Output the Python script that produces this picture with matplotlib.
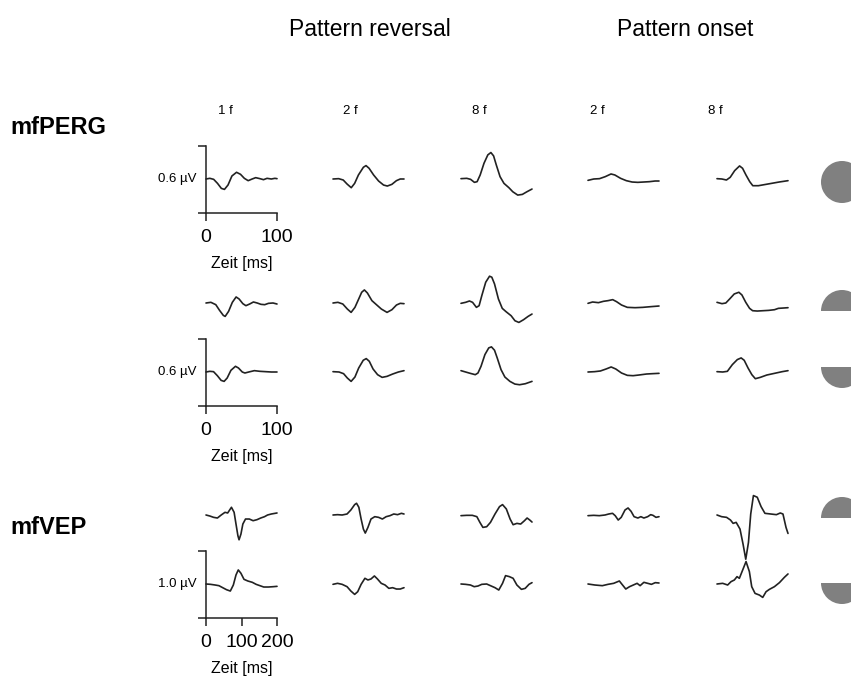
import matplotlib
matplotlib.use('Agg')
import matplotlib.pyplot as plt
from matplotlib.patches import Wedge

plt.rcParams['font.family'] = ['Liberation Sans', 'DejaVu Sans']

# Kurven: (Zeit ms, Amplitude µV), abgelesen aus der Vorlage
# mfPERG Zeile 1
perg1_rev1f = [(0, 0), (5.4, 0.006), (10.8, -0.003), (16.2, -0.039), (21.6, -0.084), (26, -0.093),
               (31, -0.054), (36.5, 0.027), (43, 0.06), (48.6, 0.042), (54, 0.006), (59.4, -0.015),
               (65, 0), (70, 0.012), (76, 0.003), (81, -0.006), (86, 0.006), (92, 0), (97, 0.006), (100, 0.003)]
perg1_rev2f = [(0, 0), (8, 0.003), (14.4, -0.009), (19.8, -0.045), (25.7, -0.078), (30.5, -0.039),
               (35.8, 0.036), (42.8, 0.105), (46.5, 0.12), (50.8, 0.096), (57.2, 0.036), (64.2, -0.018),
               (71.2, -0.054), (76.5, -0.063), (82.9, -0.048), (89.3, -0.015), (94.7, 0), (100, 0)]
perg1_rev8f = [(0, 0.003), (8.1, 0.006), (13.5, -0.003), (18.9, -0.03), (22.7, -0.024), (27, 0.036),
               (32.4, 0.141), (37.8, 0.216), (42.1, 0.237), (45.9, 0.207), (49.7, 0.126), (55, 0.021),
               (60.5, -0.039), (67.5, -0.078), (72.9, -0.114), (79.9, -0.144), (86.4, -0.138),
               (92.9, -0.114), (100, -0.09)]
perg1_on2f = [(0, -0.012), (8.1, 0), (16.2, 0.003), (24.3, 0.021), (32.4, 0.045), (37.8, 0.036),
              (45.9, 0.006), (54, -0.015), (62.1, -0.027), (70.2, -0.03), (78.3, -0.027), (86.4, -0.024),
              (94.5, -0.018), (100, -0.018)]
perg1_on8f = [(0, 0.003), (6.9, 0), (13.3, -0.009), (18.6, 0.015), (24.9, 0.075), (31.8, 0.117),
              (36, 0.096), (40.8, 0.036), (46.1, -0.024), (50.4, -0.06), (58.3, -0.06), (66.3, -0.051),
              (76.9, -0.039), (87.5, -0.027), (100, -0.015)]

# mfPERG Zeile 2
perg2_rev1f = [(0, 0), (6.9, 0.006), (13.8, -0.015), (19.1, -0.066), (24.4, -0.111), (27, -0.12),
               (31.8, -0.075), (37.1, 0.006), (42.4, 0.054), (46.6, 0.036), (51.9, -0.006), (56.2, -0.024),
               (61.5, -0.009), (66.8, 0.009), (72.1, 0), (77.4, -0.012), (82.7, -0.015), (88, -0.003),
               (94.4, 0), (100, -0.009)]
perg2_rev2f = [(0, 0), (6.9, 0.006), (13.8, -0.009), (20.2, -0.054), (25.5, -0.084), (30.9, -0.039),
               (36.2, 0.036), (40.4, 0.096), (44.2, 0.117), (48.4, 0.09), (54.8, 0.021), (61.7, -0.018),
               (68.1, -0.054), (76.1, -0.084), (83, -0.06), (89.4, -0.018), (94.7, -0.003), (100, -0.006)]
perg2_rev8f = [(0, -0.003), (6.5, 0.006), (11.9, 0.018), (16.3, 0.006), (21.7, -0.039), (25.5, -0.024),
               (29.3, 0.066), (34.8, 0.186), (40.2, 0.24), (43.4, 0.231), (47.2, 0.171), (52.7, 0.036),
               (58.1, -0.048), (63.5, -0.078), (70.6, -0.114), (76, -0.159), (81.5, -0.174), (88, -0.15),
               (94.5, -0.12), (100, -0.099)]
perg2_on2f = [(0, -0.003), (6.5, 0.009), (14.7, 0.003), (21.7, 0.015), (28.2, 0.021), (34.8, 0.03),
              (40.2, 0.012), (47.2, -0.018), (55.4, -0.039), (66.3, -0.042), (77.1, -0.039), (88, -0.033),
              (100, -0.027)]
perg2_on8f = [(0, 0.006), (7, -0.006), (12.4, 0), (17.8, 0.036), (24.3, 0.081), (30.8, 0.096),
              (35.1, 0.072), (40.5, 0.006), (45.9, -0.048), (50.2, -0.069), (56.7, -0.072), (64.8, -0.069),
              (72.9, -0.066), (81, -0.06), (86.4, -0.048), (93.4, -0.045), (100, -0.042)]

# mfPERG Zeile 3
perg3_rev1f = [(0, 0), (5.3, 0.006), (10.6, 0.003), (16, -0.033), (21.3, -0.075), (25.5, -0.084),
               (29.8, -0.054), (35.1, 0.015), (41.5, 0.051), (45.7, 0.036), (51.1, 0), (54.8, -0.009),
               (60.2, 0), (68.1, 0.012), (76.1, 0.006), (84.1, 0.003), (92, 0), (100, 0)]
perg3_rev2f = [(0, 0.003), (8.5, 0), (14.9, -0.015), (20.2, -0.054), (25.5, -0.084), (30.9, -0.045),
               (36.2, 0.036), (42.6, 0.105), (46.8, 0.12), (51.1, 0.096), (56.4, 0.027), (62.8, -0.024),
               (69.2, -0.048), (76.1, -0.039), (84.1, -0.018), (92.1, 0), (100, 0.012)]
perg3_rev8f = [(0, 0.012), (6.5, 0), (13, -0.012), (20.1, -0.024), (23.9, -0.009), (28.2, 0.051),
               (33.7, 0.156), (39.1, 0.216), (42.9, 0.225), (47.2, 0.195), (51, 0.126), (56.4, 0.021),
               (61.8, -0.045), (68.9, -0.084), (75.9, -0.108), (82.5, -0.114), (90.6, -0.105), (100, -0.084)]
perg3_on2f = [(0, 0), (9.2, 0.003), (17.4, 0.009), (25.5, 0.027), (32.6, 0.045), (39.1, 0.027),
              (47.2, -0.009), (55.4, -0.03), (63.5, -0.033), (71.7, -0.027), (82.5, -0.018), (90.7, -0.015),
              (100, -0.012)]
perg3_on8f = [(0, 0.003), (8.1, 0), (14.6, 0.006), (21.6, 0.066), (28.6, 0.111), (34, 0.126),
              (38.3, 0.105), (43.7, 0.036), (49.1, -0.024), (54, -0.06), (61, -0.048), (70.2, -0.027),
              (81, -0.012), (91.8, 0.003), (100, 0.012)]

# mfVEP Zeile 1
vep1_rev1f = [(0, 0), (10.7, -0.015), (21.4, -0.035), (32.1, -0.045), (42.8, 0), (53.5, 0.04), (61, 0.03),
              (71.7, 0.115), (79.2, 0.04), (84.5, -0.135), (89.9, -0.31), (93.1, -0.37), (98.4, -0.285),
              (103.8, -0.135), (111.3, -0.06), (122, -0.06), (132.7, -0.085), (143.5, -0.07),
              (154.2, -0.045), (164.9, -0.025), (173.4, 0), (184.1, 0.015), (200, 0.03)]
vep1_rev2f = [(0, 0), (12.8, 0.005), (25.7, 0), (39.6, 0.015), (50.3, 0.075), (61, 0.155), (66.3, 0.175),
              (72.8, 0.115), (79.2, -0.06), (85.6, -0.21), (90.9, -0.27), (98.4, -0.185), (107, -0.06),
              (117.7, -0.025), (128.4, -0.035), (139.1, -0.06), (149.8, -0.025), (160.5, -0.01),
              (171.2, 0.015), (181.9, 0.005), (192.6, 0.025), (200, 0.015)]
vep1_rev8f = [(0, -0.01), (16, -0.005), (31.9, -0.005), (44.7, -0.025), (53.2, -0.11), (61.7, -0.185),
              (72.3, -0.175), (83, -0.11), (95.8, 0.015), (108.5, 0.125), (117, 0.155), (127.7, 0.09),
              (138.3, -0.06), (146.8, -0.145), (157.5, -0.125), (168.1, -0.135), (178.8, -0.085),
              (186.2, -0.045), (193.7, -0.075), (200, -0.105)]
vep1_on2f = [(0, -0.01), (16, -0.005), (31.9, -0.01), (47.9, 0), (58.5, 0.015), (69.1, 0.025),
             (76.6, -0.01), (85.1, -0.075), (93.6, -0.035), (104.3, 0.075), (112.8, 0.105), (121.3, 0.055),
             (129.8, -0.025), (140.4, -0.045), (148.9, -0.025), (157.4, -0.045), (168.1, -0.025),
             (176.6, 0.005), (183, -0.005), (191.5, -0.035), (200, -0.025)]
vep1_on8f = [(0, 0), (13, -0.025), (27, -0.035), (38, -0.075), (45.4, -0.125), (54, -0.11), (64.8, -0.21),
             (73.4, -0.435), (81, -0.66), (88.6, -0.41), (95, 0.015), (102.6, 0.29), (113.4, 0.265),
             (124.2, 0.125), (135, 0.025), (151.2, 0.015), (167.4, 0.005), (178.2, 0.03), (185.8, 0.015),
             (194.4, -0.185), (200, -0.275)]

# mfVEP Zeile 2
vep2_rev1f = [(0, 0), (12.8, -0.005), (25.7, -0.015), (36.4, -0.025), (47.1, -0.055), (57.8, -0.085),
              (68.5, -0.105), (77, -0.015), (84.5, 0.135), (90.9, 0.21), (98.4, 0.16), (107, 0.07),
              (117.7, 0.045), (130.5, 0.025), (141.2, -0.005), (151.9, -0.025), (162.6, -0.045),
              (175.5, -0.045), (189.4, -0.04), (200, -0.035)]
vep2_rev2f = [(0, -0.005), (12.8, 0.01), (25.7, -0.005), (39.6, -0.04), (50.3, -0.105), (61, -0.155),
              (69.6, -0.115), (79.2, -0.005), (89.9, 0.085), (98.4, 0.06), (107, 0.075), (116.6, 0.12),
              (125.2, 0.075), (135.9, 0.01), (146.6, -0.015), (157.3, -0.065), (168, -0.055),
              (178.7, -0.075), (189.4, -0.075), (200, -0.055)]
vep2_rev8f = [(0, 0), (12.8, -0.005), (26.6, -0.015), (37.2, -0.04), (47.9, -0.03), (58.5, -0.005),
              (72.3, 0), (83, -0.025), (95.8, -0.055), (106.4, -0.09), (117, 0.01), (125.5, 0.125),
              (136.2, 0.11), (146.8, 0.085), (157.4, -0.015), (170.2, -0.08), (180.9, -0.065),
              (191.5, -0.005), (200, 0.02)]
vep2_on2f = [(0, 0), (19.2, -0.015), (40.4, -0.025), (56.4, -0.005), (72.3, 0.01), (88.3, 0.045),
             (95.8, -0.005), (106.4, -0.075), (117, -0.04), (127.7, -0.015), (138.3, 0.01), (146.8, -0.025),
             (157.4, 0.025), (168.1, 0.01), (178.7, -0.005), (189.4, 0.02), (200, 0.015)]
vep2_on8f = [(0, 0), (16, 0.01), (30, -0.015), (39.5, 0.035), (48.9, 0.06), (56.4, 0.11), (63, 0.085),
             (72.4, 0.21), (81.8, 0.335), (91.2, 0.185), (97.8, -0.04), (107.2, -0.14), (119.4, -0.165),
             (128.8, -0.2), (138.2, -0.115), (147.6, -0.08), (161.7, -0.04), (175.8, 0.02), (189.9, 0.1),
             (200, 0.15)]

perg_rows = [
    [perg1_rev1f, perg1_rev2f, perg1_rev8f, perg1_on2f, perg1_on8f],
    [perg2_rev1f, perg2_rev2f, perg2_rev8f, perg2_on2f, perg2_on8f],
    [perg3_rev1f, perg3_rev2f, perg3_rev8f, perg3_on2f, perg3_on8f],
]
vep_rows = [
    [vep1_rev1f, vep1_rev2f, vep1_rev8f, vep1_on2f, vep1_on8f],
    [vep2_rev1f, vep2_rev2f, vep2_rev8f, vep2_on2f, vep2_on8f],
]
col_labels = ['1 f', '2 f', '8 f', '2 f', '8 f']
groups = ['Pattern reversal', 'Pattern onset']

# Layout in Pixel
W, H = 851, 679
COL_X = [206, 333, 461, 588, 717]
COL_LABEL_X = [218, 343, 472, 590, 708]
TRACE_W = 71
BAR_H = 67
PERG_Y = [179, 303, 372]
VEP_Y = [515, 584]
LINE = '#222222'


def box(x0, yc, w, h):
    return [x0 / W, 1 - (yc + h / 2) / H, w / W, h / H]


def fx(x):
    return x / W


def fy(y):
    return 1 - y / H


fig = plt.figure(figsize=(W / 100, H / 100), dpi=100)

# Stimulus-Symbole (graue Kreise rechts)
bg = fig.add_axes([0, 0, 1, 1])
bg.set_xlim(0, W)
bg.set_ylim(H, 0)
bg.axis('off')
grey = '#808080'
bg.add_patch(Wedge((842, 182), 21, 0, 360, color=grey, lw=0))
bg.add_patch(Wedge((842, 311), 21, 180, 360, color=grey, lw=0))
bg.add_patch(Wedge((842, 367), 21, 0, 180, color=grey, lw=0))
bg.add_patch(Wedge((842, 518), 21, 180, 360, color=grey, lw=0))
bg.add_patch(Wedge((842, 583), 21, 0, 180, color=grey, lw=0))


def scale_axes(ax, xmax, xticks, ylo, yhi, label):
    for s in ['top', 'right']:
        ax.spines[s].set_visible(False)
    for s in ['left', 'bottom']:
        ax.spines[s].set_linewidth(1.1)
        ax.spines[s].set_color('#222222')
    ax.set_xticks(xticks)
    ax.set_xticklabels([str(x) for x in xticks], fontsize=14)
    ax.set_yticks([ylo, yhi])
    ax.set_yticklabels(['', ''])
    ax.tick_params(direction='out', length=6, width=1.1, color='#222222', pad=6)
    ax.annotate(label, xy=(0, 0.5), xycoords='axes fraction', xytext=(-7, 0),
                textcoords='offset points', ha='right', va='center', fontsize=9.5)
    ax.annotate('Zeit [ms]', xy=(0.5, 0), xycoords='axes fraction', xytext=(0, -37),
                textcoords='offset points', ha='center', va='center', fontsize=11.5)


def draw_row(traces, yc, xmax, ylim, scale=None):
    for c, tr in enumerate(traces):
        ax = fig.add_axes(box(COL_X[c], yc, TRACE_W, BAR_H))
        ax.patch.set_visible(False)
        t = [p[0] for p in tr]
        v = [p[1] for p in tr]
        ax.plot(t, v, color=LINE, lw=1.2, clip_on=False,
                solid_joinstyle='round', solid_capstyle='round')
        ax.set_xlim(0, xmax)
        ax.set_ylim(-ylim, ylim)
        if c == 0 and scale is not None:
            scale_axes(ax, xmax, scale[0], -ylim, ylim, scale[1])
        else:
            ax.axis('off')


draw_row(perg_rows[0], PERG_Y[0], 100, 0.3, ([0, 100], '0.6 µV'))
draw_row(perg_rows[1], PERG_Y[1], 100, 0.3)
draw_row(perg_rows[2], PERG_Y[2], 100, 0.3, ([0, 100], '0.6 µV'))
draw_row(vep_rows[0], VEP_Y[0], 200, 0.5)
draw_row(vep_rows[1], VEP_Y[1], 200, 0.5, ([0, 100, 200], '1.0 µV'))

# Beschriftungen
fig.text(fx(370), fy(30), groups[0], ha='center', va='center', fontsize=16.5)
fig.text(fx(685), fy(30), groups[1], ha='center', va='center', fontsize=16.5)
for lx, lab in zip(COL_LABEL_X, col_labels):
    fig.text(fx(lx), fy(111), lab, ha='left', va='center', fontsize=9.5)
fig.text(fx(10), fy(127), 'mfPERG', ha='left', va='center', fontsize=17, fontweight='bold')
fig.text(fx(10), fy(527), 'mfVEP', ha='left', va='center', fontsize=17, fontweight='bold')

fig.savefig('out.png', dpi=100)
